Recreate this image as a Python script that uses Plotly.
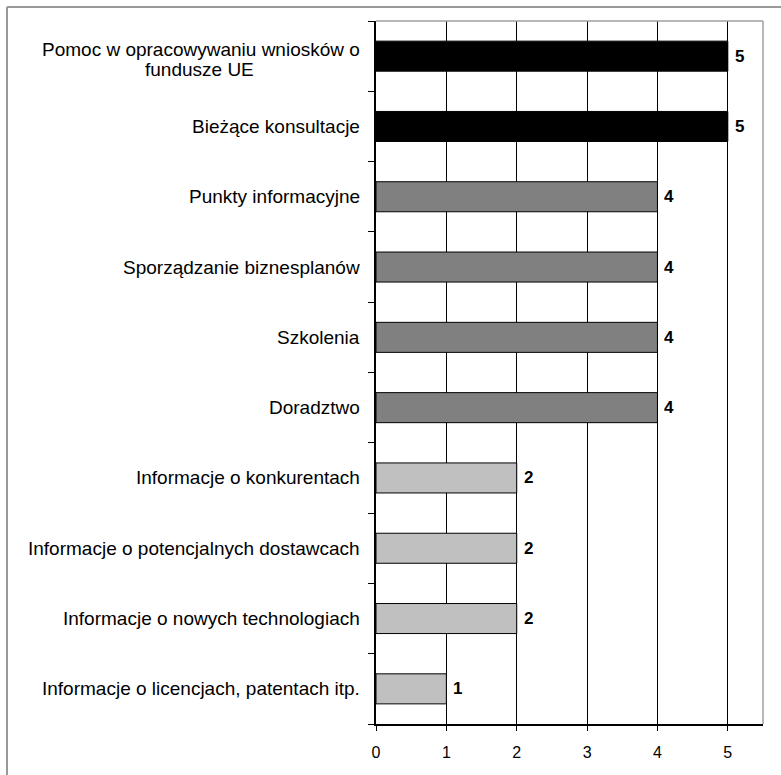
import plotly.graph_objects as go

# Support services, listed top to bottom
categories = [
    "Pomoc w opracowywaniu wniosków o fundusze UE",
    "Bieżące konsultacje",
    "Punkty informacyjne",
    "Sporządzanie biznesplanów",
    "Szkolenia",
    "Doradztwo",
    "Informacje o konkurentach",
    "Informacje o potencjalnych dostawcach",
    "Informacje o nowych technologiach",
    "Informacje o licencjach, patentach itp.",
]
# How the long first label is broken over two lines
first_label_lines = ["Pomoc w opracowywaniu wniosków o", "fundusze UE"]
values = [5, 5, 4, 4, 4, 4, 2, 2, 2, 1]
x_ticks = [0, 1, 2, 3, 4, 5]

# Shade by level of demand
shade = {5: "#000000", 4: "#808080", 2: "#c0c0c0", 1: "#c0c0c0"}
bar_colors = [shade[v] for v in values]

FONT = "Liberation Sans, Arial, sans-serif"
LABEL_SIZE = 19

fig = go.Figure(
    go.Bar(
        y=categories,
        x=values,
        orientation="h",
        marker=dict(color=bar_colors, line=dict(color="#000000", width=1)),
        hoverinfo="skip",
    )
)

# Category labels, right-anchored next to the axis
for cat in categories[1:]:
    fig.add_annotation(
        x=0, xref="paper", y=cat, yref="y",
        text=cat, showarrow=False,
        xanchor="right", xshift=-14,
        font=dict(family=FONT, size=LABEL_SIZE, color="#000000"),
    )
# Two-line label with its lines centred on each other
fig.add_annotation(
    x=0, xref="paper", y=categories[0], yref="y",
    text=first_label_lines[0], showarrow=False,
    xanchor="right", xshift=-14, yshift=7,
    font=dict(family=FONT, size=LABEL_SIZE, color="#000000"),
)
fig.add_annotation(
    x=-0.4548, xref="paper", y=categories[0], yref="y",
    text=first_label_lines[1], showarrow=False,
    xanchor="center", yshift=-13,
    font=dict(family=FONT, size=LABEL_SIZE, color="#000000"),
)

# Value labels at the end of each bar
for cat, v in zip(categories, values):
    fig.add_annotation(
        x=v, xref="x", y=cat, yref="y",
        text=f"<b>{v}</b>", showarrow=False,
        xanchor="left", xshift=5,
        font=dict(family=FONT, size=17, color="#000000"),
    )

fig.update_layout(
    width=781, height=775,
    margin=dict(l=376, r=18, t=21, b=51),
    paper_bgcolor="#ffffff",
    plot_bgcolor="#ffffff",
    bargap=0.573,
    showlegend=False,
    xaxis=dict(
        range=[0, 5.5],
        tickvals=x_ticks,
        showgrid=True, gridcolor="#000000", gridwidth=1,
        zeroline=False,
        showline=True, linecolor="#000000", linewidth=1.5,
        ticks="outside", ticklen=5, tickcolor="#000000",
        ticklabelstandoff=8,
        tickfont=dict(family=FONT, size=16, color="#000000"),
        fixedrange=True,
    ),
    yaxis=dict(
        categoryorder="array",
        categoryarray=categories[::-1],
        showticklabels=False,
        tickson="boundaries",
        ticks="outside", ticklen=6, tickcolor="#000000",
        showgrid=False, zeroline=False,
        showline=True, linecolor="#000000", linewidth=1.5,
        fixedrange=True,
    ),
    shapes=[
        # light frame on top and right of the plotting area
        dict(type="line", xref="paper", yref="paper", x0=0, x1=1, y0=1, y1=1,
             line=dict(color="#a0a0a0", width=1.5)),
        dict(type="line", xref="paper", yref="paper", x0=1, x1=1, y0=0, y1=1,
             line=dict(color="#a0a0a0", width=1.5)),
        # outer chart border
        dict(type="line", xref="paper", yref="paper", x0=-0.9535, x1=1.2,
             y0=1.0199, y1=1.0199, line=dict(color="#999999", width=2)),
        dict(type="line", xref="paper", yref="paper", x0=-0.9535, x1=-0.9535,
             y0=-0.2, y1=1.0199, line=dict(color="#999999", width=2)),
    ],
)

fig.write_html("out.html")
